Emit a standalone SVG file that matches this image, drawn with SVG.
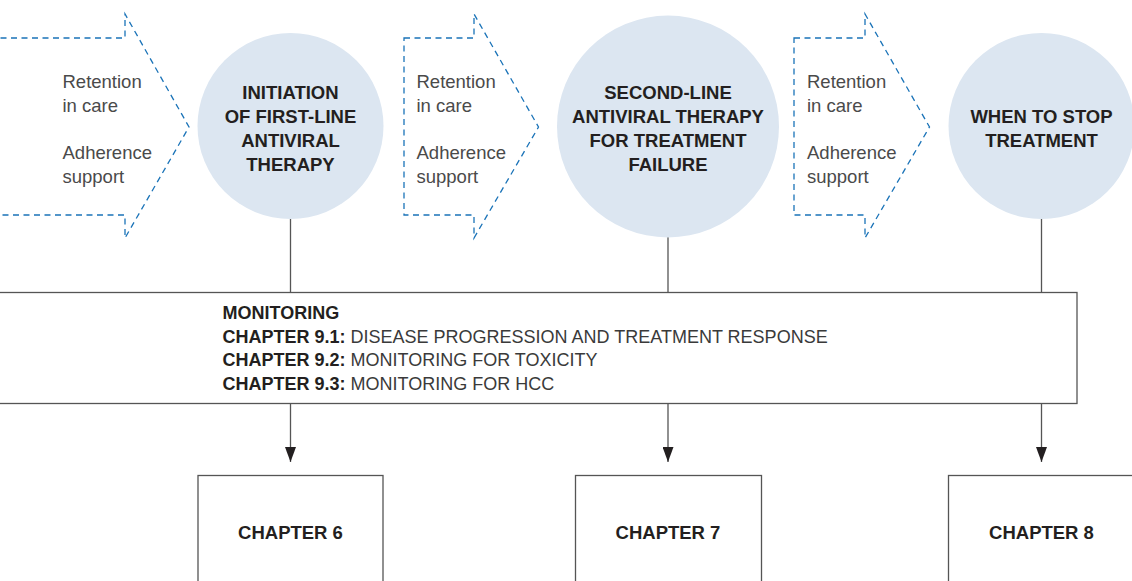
<svg xmlns="http://www.w3.org/2000/svg" width="1132" height="581" viewBox="0 0 1132 581">
<style>
.chev{fill:none;stroke:#1a73b8;stroke-width:1.3;stroke-dasharray:6 4.5}
.circ{fill:#dce6f1}
.ln{stroke:#555;stroke-width:1.3;fill:none}
.box{fill:#fff;stroke:#555;stroke-width:1.3}
.ht{font-family:"Liberation Sans",Arial,sans-serif;font-size:18.5px;font-weight:bold;fill:#231f20;text-anchor:middle}
.sm{font-family:"Liberation Sans",Arial,sans-serif;font-size:18.5px;fill:#4a4a4a}
.mt{font-family:"Liberation Sans",Arial,sans-serif;font-size:18px;fill:#3a3a3a}
.b{font-weight:bold;fill:#231f20}
</style>
<defs>
<marker id="ah" viewBox="0 0 15 11" refX="15" refY="5.5" markerWidth="15" markerHeight="11" markerUnits="userSpaceOnUse" orient="auto">
<path d="M0,0 L15,5.5 L0,11 Z" fill="#231f20"/>
</marker>
</defs>
<rect width="1132" height="581" fill="#fff"/>
<g id="support1">
<path class="chev" d="M-10,38 H125 V14 L189,127 L125,238 V215 H-10"/>
<text class="sm" x="62.5" y="88">Retention</text>
<text class="sm" x="62.5" y="112">in care</text>
<text class="sm" x="62.5" y="159">Adherence</text>
<text class="sm" x="62.5" y="183">support</text>
</g>
<g id="support2">
<path class="chev" d="M404,38 H474 V14 L538.5,127 L474,238 V215 H404 Z"/>
<text class="sm" x="416.5" y="88">Retention</text>
<text class="sm" x="416.5" y="112">in care</text>
<text class="sm" x="416.5" y="159">Adherence</text>
<text class="sm" x="416.5" y="183">support</text>
</g>
<g id="support3">
<path class="chev" d="M794,38 H865 V14 L929.5,127 L865,238 V215 H794 Z"/>
<text class="sm" x="807" y="88">Retention</text>
<text class="sm" x="807" y="112">in care</text>
<text class="sm" x="807" y="159">Adherence</text>
<text class="sm" x="807" y="183">support</text>
</g>
<g id="connectors">
<line class="ln" x1="290.5" y1="219" x2="290.5" y2="292.5"/>
<line class="ln" x1="668" y1="237" x2="668" y2="292.5"/>
<line class="ln" x1="1041.5" y1="219" x2="1041.5" y2="292.5"/>
<line class="ln" x1="290.5" y1="403.5" x2="290.5" y2="462" marker-end="url(#ah)"/>
<line class="ln" x1="668" y1="403.5" x2="668" y2="462" marker-end="url(#ah)"/>
<line class="ln" x1="1041.5" y1="403.5" x2="1041.5" y2="462" marker-end="url(#ah)"/>
</g>
<g id="first-line">
<circle class="circ" cx="290.5" cy="126" r="93"/>
<text class="ht" x="290.5" y="99">INITIATION</text>
<text class="ht" x="290.5" y="123">OF FIRST-LINE</text>
<text class="ht" x="290.5" y="147">ANTIVIRAL</text>
<text class="ht" x="290.5" y="171">THERAPY</text>
</g>
<g id="second-line">
<circle class="circ" cx="668" cy="126.5" r="111"/>
<text class="ht" x="668" y="99">SECOND-LINE</text>
<text class="ht" x="668" y="123">ANTIVIRAL THERAPY</text>
<text class="ht" x="668" y="147">FOR TREATMENT</text>
<text class="ht" x="668" y="171">FAILURE</text>
</g>
<g id="stop">
<circle class="circ" cx="1041.5" cy="126" r="93"/>
<text class="ht" x="1041.5" y="123">WHEN TO STOP</text>
<text class="ht" x="1041.5" y="147">TREATMENT</text>
</g>
<g id="monitoring">
<rect class="box" x="-5" y="292.5" width="1082" height="111"/>
<text class="mt b" x="222.5" y="319">MONITORING</text>
<text class="mt" x="222.5" y="342.5"><tspan class="b">CHAPTER 9.1:</tspan> DISEASE PROGRESSION AND TREATMENT RESPONSE</text>
<text class="mt" x="222.5" y="366"><tspan class="b">CHAPTER 9.2:</tspan> MONITORING FOR TOXICITY</text>
<text class="mt" x="222.5" y="389.5"><tspan class="b">CHAPTER 9.3:</tspan> MONITORING FOR HCC</text>
</g>
<g id="chapter6">
<rect class="box" x="198" y="475.5" width="185" height="120"/>
<text class="ht" x="290.5" y="539">CHAPTER 6</text>
</g>
<g id="chapter7">
<rect class="box" x="575.5" y="475.5" width="186" height="120"/>
<text class="ht" x="668" y="539">CHAPTER 7</text>
</g>
<g id="chapter8">
<rect class="box" x="948.5" y="475.5" width="200" height="120"/>
<text class="ht" x="1041.5" y="539">CHAPTER 8</text>
</g>
</svg>
